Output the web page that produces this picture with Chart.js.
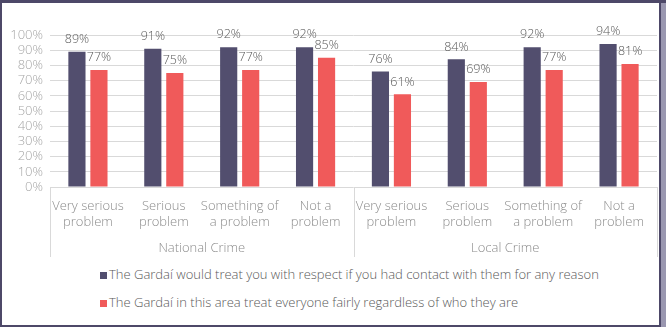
<!DOCTYPE html>
<html>
<head>
<meta charset="utf-8">
<script src="https://cdn.jsdelivr.net/npm/chart.js@4.4.1/dist/chart.umd.min.js"></script>
<style>
  html, body { margin: 0; padding: 0; }
  body { width: 666px; height: 327px; background: #9a97b0; position: relative; overflow: hidden; font-family: 'Open Sans', sans-serif; }
  #topband { position: absolute; left: 0; top: 0; width: 666px; height: 3px; background: #4d4868; }
  #frame { position: absolute; left: 0; top: 0; width: 661px; height: 327px; box-sizing: border-box; background: #ffffff;
           border-top: 3px solid #4d4868; border-left: 2px solid #4d4868; border-right: 2px solid #4d4868; border-bottom: 2px solid #4d4868; }
  #c { position: absolute; left: 0; top: 0; }
  #legend { position: absolute; left: 100px; top: 264px; font-size: 13px; font-weight: 300; color: #595959; }
  .row { height: 27.5px; line-height: 20px; white-space: nowrap; }
  .sw { display: inline-block; width: 7px; height: 7px; margin-right: 2px; vertical-align: 0px; }
</style>
</head>
<body>
<div id="topband"></div>
<div id="frame"></div>
<canvas id="c" width="660" height="262" style="width:660px;height:262px"></canvas>
<div id="legend"></div>
<script>
const categories = [
  ['Very serious', 'problem'], ['Serious', 'problem'], ['Something of', 'a problem'], ['Not a', 'problem'],
  ['Very serious', 'problem'], ['Serious', 'problem'], ['Something of', 'a problem'], ['Not a', 'problem']
];
const groups = ['National Crime', 'Local Crime'];
const groupSizes = [4, 4];
const seriesNames = [
  'The Gardaí would treat you with respect if you had contact with them for any reason',
  'The Gardaí in this area treat everyone fairly regardless of who they are'
];
const respectValues = [89, 91, 92, 92, 76, 84, 92, 94];
const fairlyValues = [77, 75, 77, 85, 61, 69, 77, 81];
const seriesColors = ['#524e6e', '#f05a5a'];
const yTickValues = [0, 10, 20, 30, 40, 50, 60, 70, 80, 90, 100];

const FONT = "'Open Sans', sans-serif";

const valueLabels = {
  id: 'valueLabels',
  afterDatasetsDraw(chart) {
    const ctx = chart.ctx;
    ctx.save();
    ctx.font = '300 12.5px ' + FONT;
    ctx.fillStyle = '#595959';
    ctx.textAlign = 'center';
    ctx.textBaseline = 'bottom';
    chart.data.datasets.forEach((ds, i) => {
      const meta = chart.getDatasetMeta(i);
      meta.data.forEach((el, j) => {
        ctx.fillText(ds.data[j] + '%', el.x, el.y - 6);
      });
    });
    ctx.restore();
  }
};

const groupDividers = {
  id: 'groupDividers',
  afterDraw(chart) {
    const xs = chart.scales.x;
    const ctx = chart.ctx;
    const bounds = [xs.left];
    let idx = 0;
    groupSizes.forEach(n => {
      idx += n;
      if (idx < categories.length) {
        bounds.push((xs.getPixelForValue(idx - 1) + xs.getPixelForValue(idx)) / 2);
      }
    });
    bounds.push(xs.right);
    ctx.save();
    ctx.strokeStyle = '#d9d9d9';
    ctx.lineWidth = 1;
    bounds.forEach(b => {
      const px = Math.round(b) + 0.5;
      ctx.beginPath();
      ctx.moveTo(px, chart.chartArea.bottom);
      ctx.lineTo(px, chart.chartArea.bottom + 70);
      ctx.stroke();
    });
    ctx.restore();
  }
};

new Chart(document.getElementById('c'), {
  type: 'bar',
  data: {
    labels: categories,
    datasets: [
      { label: seriesNames[0], data: respectValues, backgroundColor: seriesColors[0], borderWidth: 0 },
      { label: seriesNames[1], data: fairlyValues, backgroundColor: seriesColors[1], borderWidth: 0 }
    ]
  },
  options: {
    responsive: false,
    animation: false,
    devicePixelRatio: 1,
    layout: { padding: { top: 35, right: 3, left: 0, bottom: 0 } },
    datasets: { bar: { barPercentage: 0.78, categoryPercentage: 0.58 } },
    plugins: { legend: { display: false }, tooltip: { enabled: false } },
    scales: {
      y: {
        min: 0, max: 100,
        afterFit(s) { s.width = 50; },
        afterBuildTicks(s) { s.ticks = yTickValues.map(v => ({ value: v })); },
        ticks: { autoSkip: false, padding: 7, color: '#a6a6a6', font: { family: FONT, size: 13, weight: 300 }, callback: v => v + '%' },
        grid: { color: '#d9d9d9', drawTicks: false, lineWidth: 1 },
        border: { display: false }
      },
      x: {
        afterFit(s) { s.height = 45; },
        ticks: { padding: 3, color: '#8c8c8c', maxRotation: 0, autoSkip: false, font: { family: FONT, size: 13, weight: 300, lineHeight: 1.23 } },
        grid: { display: false },
        border: { display: false }
      },
      x2: {
        type: 'category',
        labels: groups,
        position: 'bottom',
        afterFit(s) { s.height = 30; },
        ticks: { padding: 0, color: '#8c8c8c', maxRotation: 0, font: { family: FONT, size: 13, weight: 300 } },
        grid: { display: false },
        border: { display: false }
      }
    }
  },
  plugins: [valueLabels, groupDividers]
});

const legend = document.getElementById('legend');
seriesNames.forEach((name, i) => {
  const row = document.createElement('div');
  row.className = 'row';
  const sw = document.createElement('span');
  sw.className = 'sw';
  sw.style.background = seriesColors[i];
  row.appendChild(sw);
  row.appendChild(document.createTextNode(name));
  legend.appendChild(row);
});
</script>
</body>
</html>
